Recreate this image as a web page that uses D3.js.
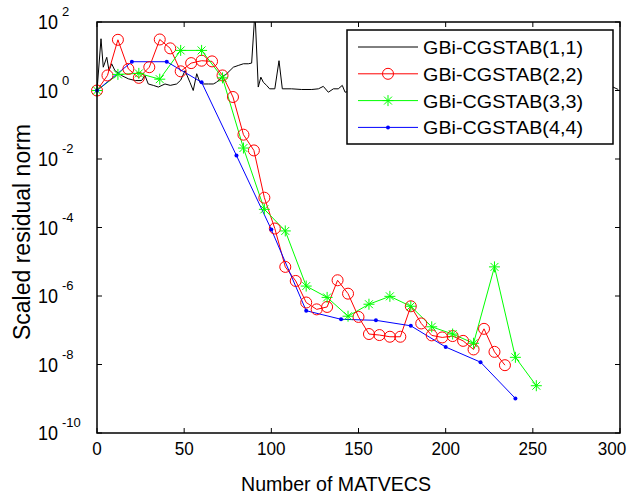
<!DOCTYPE html>
<html>
<head>
<meta charset="utf-8">
<script src="https://cdn.jsdelivr.net/npm/d3@7"></script>
<style>
  body { margin: 0; background: #fff; }
  text { font-family: "Liberation Sans", Arial, sans-serif; fill: #000; }
</style>
</head>
<body>
<script>
let width = 637
let height = 497
let margin = {left: 97, right: 17, top: 22, bottom: 64}

// series 1: plotted every matvec (only the visible part is well read)
let x1 = [0, 2.3, 3.6, 5.6, 6.9, 8.4, 10.3, 14, 18, 22, 25.6, 27.5, 29.4, 32.3, 35.2, 39, 42, 45.7, 48, 50.5,
  53.3, 55.2, 57.2, 59, 61, 64, 66.7, 68.6, 71.5, 74.4, 78.2, 81, 84, 86.8, 88.7, 90.6, 92.5, 94, 95.4, 97.3,
  99, 102, 104.4, 106.3, 111.6, 117.4, 123.2, 127, 129.8, 132.7, 135.6, 138.4, 140.7, 142.3, 150, 170, 200,
  230, 260, 290, 296, 299]
let y1 = [1, 32.4, 4.79, 9.33, 3.8, 6.03, 3.8, 2.75, 2.19, 1.95, 1.95, 2.75, 1.55, 1.41, 1.26, 1.55, 1.41, 1.55, 2.0, 3.8,
  1.74, 1, 3.09, 1.74, 1.55, 1.55, 1.55, 1.74, 2.45, 3.09, 4.79, 5.37, 6.03, 6.03, 6.31, 200, 1.26, 2.45, 1.74, 1.41,
  1.12, 1.12, 7.41, 1.12, 1.12, 1.07, 1.07, 1.12, 1.32, 0.89, 1.12, 1.12, 1.41, 0.89, 1.12, 1.0, 1.12,
  1.05, 1.12, 1.12, 1.26, 1.07]

let x2 = d3.range(0, 235, 6)
let y2 = [1, 2.75, 30.2, 4.27, 2.34, 4.79, 30.9, 17, 3.63, 6.31, 7.41, 7.08, 2.75, 0.646, 0.0513, 0.0178,
  7.41e-4, 9.33e-5, 7.08e-6, 2.75e-6, 6.46e-7, 4.07e-7, 4.79e-7, 2.88e-6, 1.17e-6, 2.45e-7, 7.76e-8, 7.24e-8,
  6.46e-8, 6.46e-8, 5.01e-7, 1.58e-7, 7.08e-8, 6.17e-8, 6.76e-8, 4.9e-8, 2.75e-8, 1.1e-7, 2.34e-8, 9.55e-9]

let x3 = d3.range(0, 253, 12)
let y3 = [1, 2.95, 3.16, 2.14, 14.8, 14.8, 2.34, 0.0209, 3.39e-4, 7.94e-5, 1.95e-6, 9.1e-7, 2.57e-7, 5.75e-7,
  9.77e-7, 5.01e-7, 1.26e-7, 7.76e-8, 4.17e-8, 7.08e-6, 1.62e-8, 2.4e-9]

let x4 = d3.range(0, 241, 20)
let y4 = [1, 6.92, 6.92, 1.74, 0.0126, 8.71e-5, 3.72e-7, 2.09e-7, 1.95e-7, 1.35e-7, 3.24e-8, 1.17e-8, 1.02e-9]

let names = ['GBi-CGSTAB(1,1)', 'GBi-CGSTAB(2,2)', 'GBi-CGSTAB(3,3)', 'GBi-CGSTAB(4,4)']
let colors = ['#000000', '#ff0000', '#00ff00', '#0000ff']
let markers = ['none', 'circle', 'star', 'dot']
let xTicks = [0, 50, 100, 150, 200, 250, 300]
let yTickExp = [2, 0, -2, -4, -6, -8, -10]

let series = [[x1, y1], [x2, y2], [x3, y3], [x4, y4]].map((s, k) => ({
  name: names[k], color: colors[k], marker: markers[k],
  pts: s[0].map((x, i) => ({x: x, y: s[1][i]}))
}))

let svg = d3.select('body').append('svg')
  .attr('width', width)
  .attr('height', height)

let scaleX = d3.scaleLinear().domain([0, 300]).range([margin.left, width - margin.right])
let scaleY = d3.scaleLog().domain([1e-10, 1e2]).range([height - margin.bottom, margin.top])

let x0 = scaleX.range()[0], xEnd = scaleX.range()[1]
let yTop = scaleY.range()[1], yBot = scaleY.range()[0]

svg.append('clipPath').attr('id', 'clip')
  .append('rect')
  .attr('x', x0).attr('y', yTop)
  .attr('width', xEnd - x0).attr('height', yBot - yTop)

// ticks inside on all four sides
let tickLen = 5
let tickG = svg.append('g').attr('stroke', '#000').attr('stroke-width', 1)
xTicks.forEach(t => {
  let px = scaleX(t)
  tickG.append('line').attr('x1', px).attr('x2', px).attr('y1', yBot).attr('y2', yBot - tickLen)
  tickG.append('line').attr('x1', px).attr('x2', px).attr('y1', yTop).attr('y2', yTop + tickLen)
})
yTickExp.forEach(e => {
  let py = scaleY(Math.pow(10, e))
  tickG.append('line').attr('x1', x0).attr('x2', x0 + tickLen).attr('y1', py).attr('y2', py)
  tickG.append('line').attr('x1', xEnd).attr('x2', xEnd - tickLen).attr('y1', py).attr('y2', py)
})

// x tick labels (the last one sits a little inside, as in the original)
svg.append('g').selectAll('text').data(xTicks).enter().append('text')
  .attr('x', d => scaleX(d) - (d === 300 ? 8 : 0))
  .attr('y', yBot + 22)
  .attr('text-anchor', 'middle')
  .attr('font-size', 19)
  .attr('textLength', d => String(d).length * 9.5)
  .attr('lengthAdjust', 'spacingAndGlyphs')
  .text(d => d)

// y tick labels: 10 with superscript exponent
let yl = svg.append('g').selectAll('g').data(yTickExp).enter().append('g')
yl.append('text')
  .attr('x', x0 - 39)
  .attr('y', d => scaleY(Math.pow(10, d)) + 7)
  .attr('text-anchor', 'end')
  .attr('font-size', 20)
  .attr('textLength', 20)
  .attr('lengthAdjust', 'spacingAndGlyphs')
  .text('10')
yl.append('text')
  .attr('x', x0 - 35)
  .attr('y', d => scaleY(Math.pow(10, d)) - 6)
  .attr('font-size', 13)
  .text(d => d)

// axis titles
svg.append('text')
  .attr('x', 336)
  .attr('y', 491)
  .attr('text-anchor', 'middle')
  .attr('font-size', 21)
  .attr('textLength', 190)
  .attr('lengthAdjust', 'spacingAndGlyphs')
  .text('Number of MATVECS')

svg.append('text')
  .attr('transform', 'translate(30,232) rotate(-90)')
  .attr('text-anchor', 'middle')
  .attr('font-size', 23)
  .text('Scaled residual norm')

// lines
let line = d3.line().x(d => scaleX(d.x)).y(d => scaleY(d.y))
let plot = svg.append('g').attr('clip-path', 'url(#clip)')

series.forEach(s => {
  plot.append('path')
    .datum(s.pts)
    .attr('d', line)
    .attr('fill', 'none')
    .attr('stroke', s.color)
    .attr('stroke-width', 1)
})

function starPath(r) {
  return 'M' + (-r) + ',0L' + r + ',0M0,' + (-r) + 'L0,' + r +
    'M' + (-r * 0.72) + ',' + (-r * 0.72) + 'L' + (r * 0.72) + ',' + (r * 0.72) +
    'M' + (-r * 0.72) + ',' + (r * 0.72) + 'L' + (r * 0.72) + ',' + (-r * 0.72)
}

function drawMarker(g, s, px, py) {
  if (s.marker === 'circle') {
    g.append('circle').attr('cx', px).attr('cy', py).attr('r', 5.5)
      .attr('fill', 'none').attr('stroke', s.color).attr('stroke-width', 1)
  } else if (s.marker === 'star') {
    g.append('path').attr('transform', 'translate(' + px + ',' + py + ')')
      .attr('d', starPath(5.5)).attr('fill', 'none').attr('stroke', s.color).attr('stroke-width', 1)
  } else if (s.marker === 'dot') {
    g.append('circle').attr('cx', px).attr('cy', py).attr('r', 2)
      .attr('fill', s.color)
  }
}

series.forEach(s => {
  if (s.marker === 'none') return
  let g = svg.append('g')
  s.pts.forEach(d => drawMarker(g, s, scaleX(d.x), scaleY(d.y)))
})

// frame
svg.append('rect')
  .attr('x', x0).attr('y', yTop)
  .attr('width', xEnd - x0).attr('height', yBot - yTop)
  .attr('fill', 'none').attr('stroke', '#000').attr('stroke-width', 1.5)

// legend
let lg = svg.append('g')
lg.append('rect')
  .attr('x', 347).attr('y', 30).attr('width', 266).attr('height', 114)
  .attr('fill', '#fff').attr('stroke', '#000').attr('stroke-width', 1.5)
series.forEach((s, i) => {
  let ly = 47 + i * 26.8
  lg.append('line').attr('x1', 358).attr('x2', 418).attr('y1', ly).attr('y2', ly)
    .attr('stroke', s.color).attr('stroke-width', 1)
  drawMarker(lg, s, 388, ly)
  lg.append('text').attr('x', 423).attr('y', ly + 7)
    .attr('font-size', 19)
    .attr('textLength', 160)
    .attr('lengthAdjust', 'spacingAndGlyphs')
    .text(s.name)
})
</script>
</body>
</html>
